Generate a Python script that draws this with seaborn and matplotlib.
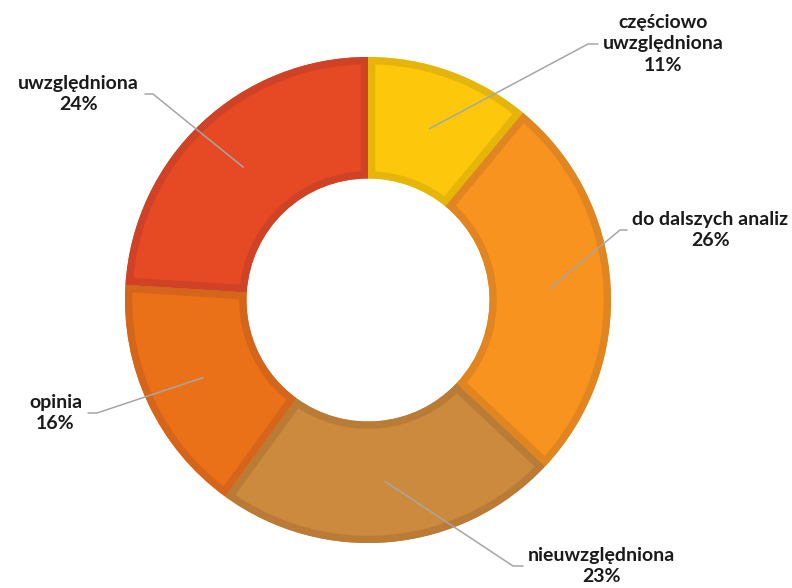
import numpy as np
import matplotlib
matplotlib.use('Agg')
import matplotlib.pyplot as plt
from matplotlib.patches import PathPatch
import seaborn as sns

# dane
kategorie = ['częściowo\nuwzględniona', 'do dalszych analiz', 'nieuwzględniona', 'opinia', 'uwzględniona']
procenty = [11, 26, 23, 16, 24]
kolory = ['#FDC70C', '#F7931E', '#CC8A3E', '#EB7118', '#E54A24']
obramowania = ['#E5B50A', '#E0851F', '#B97B36', '#D5651A', '#CF4225']

sns.set_theme(style='white')
plt.rcParams['font.family'] = ['Lato', 'DejaVu Sans']

W, H = 792, 588
cx, cy = 368, 300          # środek w pikselach
R = 243

fig = plt.figure(figsize=(W / 100, H / 100), dpi=100)
ax = fig.add_axes([0, 0, 1, 1])

wedges, _ = ax.pie(procenty, colors=kolory, startangle=90, counterclock=False,
                   radius=R, wedgeprops=dict(width=R * 0.5, linewidth=0))
ax.set_xlim(-cx, W - cx)
ax.set_ylim(-(H - cy), cy)
ax.set_aspect('equal')
ax.axis('off')

# obramowanie tylko do wewnątrz: kopia klina z grubą linią przyciętą do klina
for w, ec in zip(wedges, obramowania):
    ramka = PathPatch(w.get_path(), fill=False, edgecolor=ec, linewidth=10.5,
                      transform=w.get_transform())
    ax.add_patch(ramka)
    ramka.set_clip_path(w.get_path(), w.get_transform())

# położenie etykiet (kolanko linii, koniec linii), piksele
uklad = [((588, 44), (598, 44), 'left'),
         ((620, 230), (627, 230), 'left'),
         ((513, 566), (523, 566), 'left'),
         ((97, 413), (88, 413), 'right'),
         ((153, 94), (145, 94), 'right')]

kat = 90.0
for nazwa, p, (kol, kon, ha) in zip(kategorie, procenty, uklad):
    mid = np.deg2rad(kat - p * 3.6 / 2)
    kat -= p * 3.6
    x0, y0 = 0.75 * R * np.cos(mid), 0.75 * R * np.sin(mid)
    x1, y1 = kol[0] - cx, cy - kol[1]
    x2, y2 = kon[0] - cx, cy - kon[1]
    ax.plot([x0, x1, x2], [y0, y1, y2], color='#A6A6A6', lw=1.1, zorder=3)
    dx = 5 if ha == 'left' else -6
    ax.text(x2 + dx, y2, f'{nazwa}\n{p}%', ha=ha, va='center', multialignment='center',
            fontsize=14, fontweight='bold', color='#1A1A1A', linespacing=1.3)

plt.savefig('out.png', dpi=100)
